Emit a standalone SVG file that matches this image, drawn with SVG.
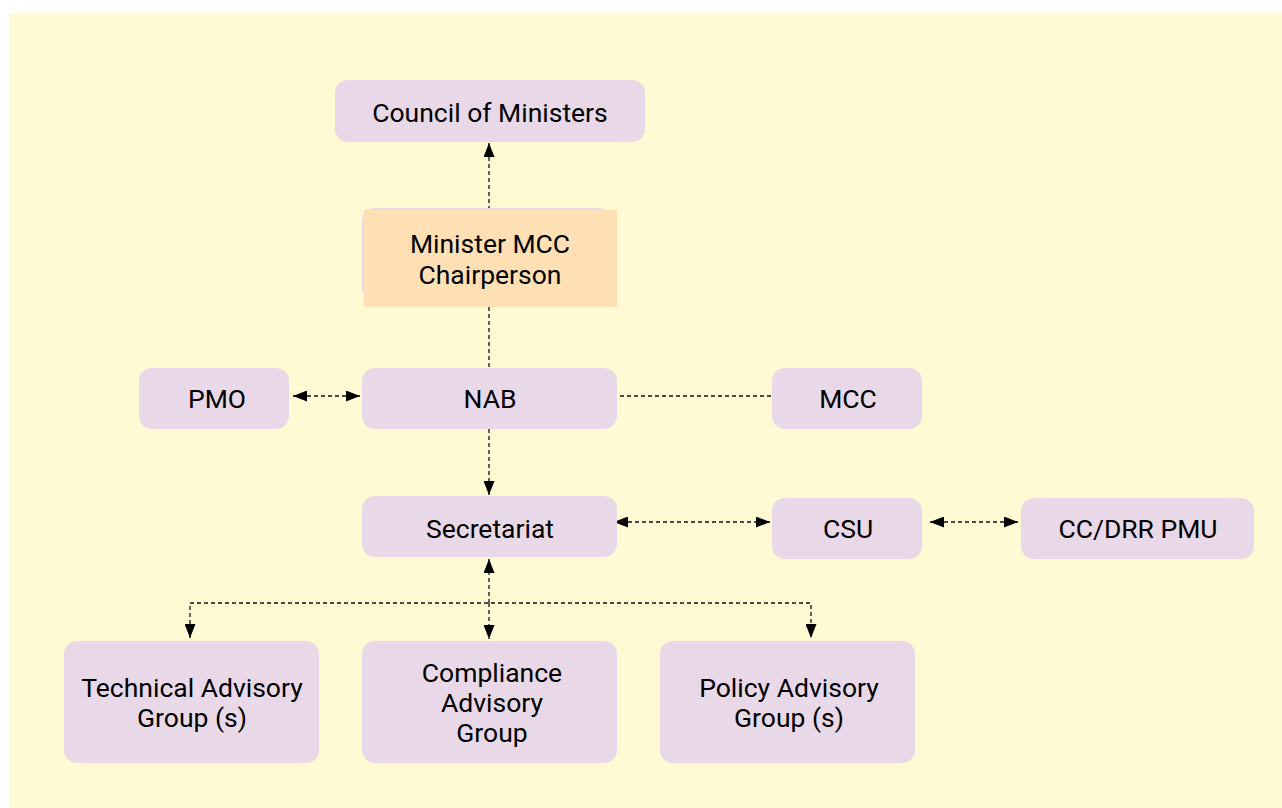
<svg xmlns="http://www.w3.org/2000/svg" width="1282" height="808" viewBox="0 0 1282 808">
<defs>
<style>
.box{fill:#E9D8E8;}
.t{font-family:Roboto,"Liberation Sans",sans-serif;font-size:26.5px;fill:#000;text-anchor:middle;}
.c{fill:none;stroke:#111;stroke-width:1.3;stroke-dasharray:4 3;}
</style>
<marker id="ah" viewBox="0 0 14 11" refX="14" refY="5.5" markerWidth="14" markerHeight="11" markerUnits="userSpaceOnUse" orient="auto-start-reverse">
<path d="M0,0 L14,5.5 L0,11 Z" fill="#000"/>
</marker>
</defs>
<rect x="0" y="0" width="1282" height="808" fill="#FFFFFF"/>
<rect x="9" y="14" width="1273" height="794" fill="#FFF9D4"/>
<g id="connectors">
<line class="c" x1="489" y1="210" x2="489" y2="143" marker-end="url(#ah)"/>
<line class="c" x1="489" y1="307" x2="489" y2="368"/>
<line class="c" x1="293" y1="396" x2="360" y2="396" marker-start="url(#ah)" marker-end="url(#ah)"/>
<line class="c" x1="620" y1="396" x2="772" y2="396"/>
<line class="c" x1="489" y1="429" x2="489" y2="495" marker-end="url(#ah)"/>
<line class="c" x1="614" y1="522" x2="770" y2="522" marker-start="url(#ah)" marker-end="url(#ah)"/>
<line class="c" x1="930" y1="522" x2="1018" y2="522" marker-start="url(#ah)" marker-end="url(#ah)"/>
<line class="c" x1="489" y1="603" x2="489" y2="559" marker-end="url(#ah)"/>
<polyline class="c" points="190,638 190,603 811,603 811,638" marker-start="url(#ah)" marker-end="url(#ah)"/>
<line class="c" x1="489" y1="603" x2="489" y2="639" marker-end="url(#ah)"/>
</g>
<g id="council"><rect class="box" x="335" y="80" width="310" height="62" rx="13"/><text class="t" x="490" y="122">Council of Ministers</text></g>
<g id="minister"><rect class="box" x="362" y="208" width="250" height="93" rx="13"/><rect x="364" y="210" width="253" height="97" fill="#FFE0B5"/><text class="t" x="490" y="253">Minister MCC</text><text class="t" x="490" y="284">Chairperson</text></g>
<g id="pmo"><rect class="box" x="139" y="368" width="150" height="61" rx="13"/><text class="t" x="217" y="408">PMO</text></g>
<g id="nab"><rect class="box" x="362" y="368" width="255" height="61" rx="13"/><text class="t" x="490" y="408">NAB</text></g>
<g id="mcc"><rect class="box" x="772" y="368" width="150" height="61" rx="13"/><text class="t" x="848" y="408">MCC</text></g>
<g id="secretariat"><rect class="box" x="362" y="496" width="255" height="61" rx="13"/><text class="t" x="490" y="538">Secretariat</text></g>
<g id="csu"><rect class="box" x="772" y="498" width="150" height="61" rx="13"/><text class="t" x="848" y="538">CSU</text></g>
<g id="ccdrr"><rect class="box" x="1021" y="498" width="233" height="61" rx="13"/><text class="t" x="1138" y="538">CC/DRR PMU</text></g>
<g id="technical"><rect class="box" x="64" y="641" width="255" height="122" rx="13"/><text class="t" x="192" y="697">Technical Advisory</text><text class="t" x="192" y="727">Group (s)</text></g>
<g id="compliance"><rect class="box" x="362" y="641" width="255" height="122" rx="13"/><text class="t" x="492" y="682">Compliance</text><text class="t" x="492" y="712">Advisory</text><text class="t" x="492" y="742">Group</text></g>
<g id="policy"><rect class="box" x="660" y="641" width="255" height="122" rx="13"/><text class="t" x="789" y="697">Policy Advisory</text><text class="t" x="789" y="727">Group (s)</text></g>
</svg>
